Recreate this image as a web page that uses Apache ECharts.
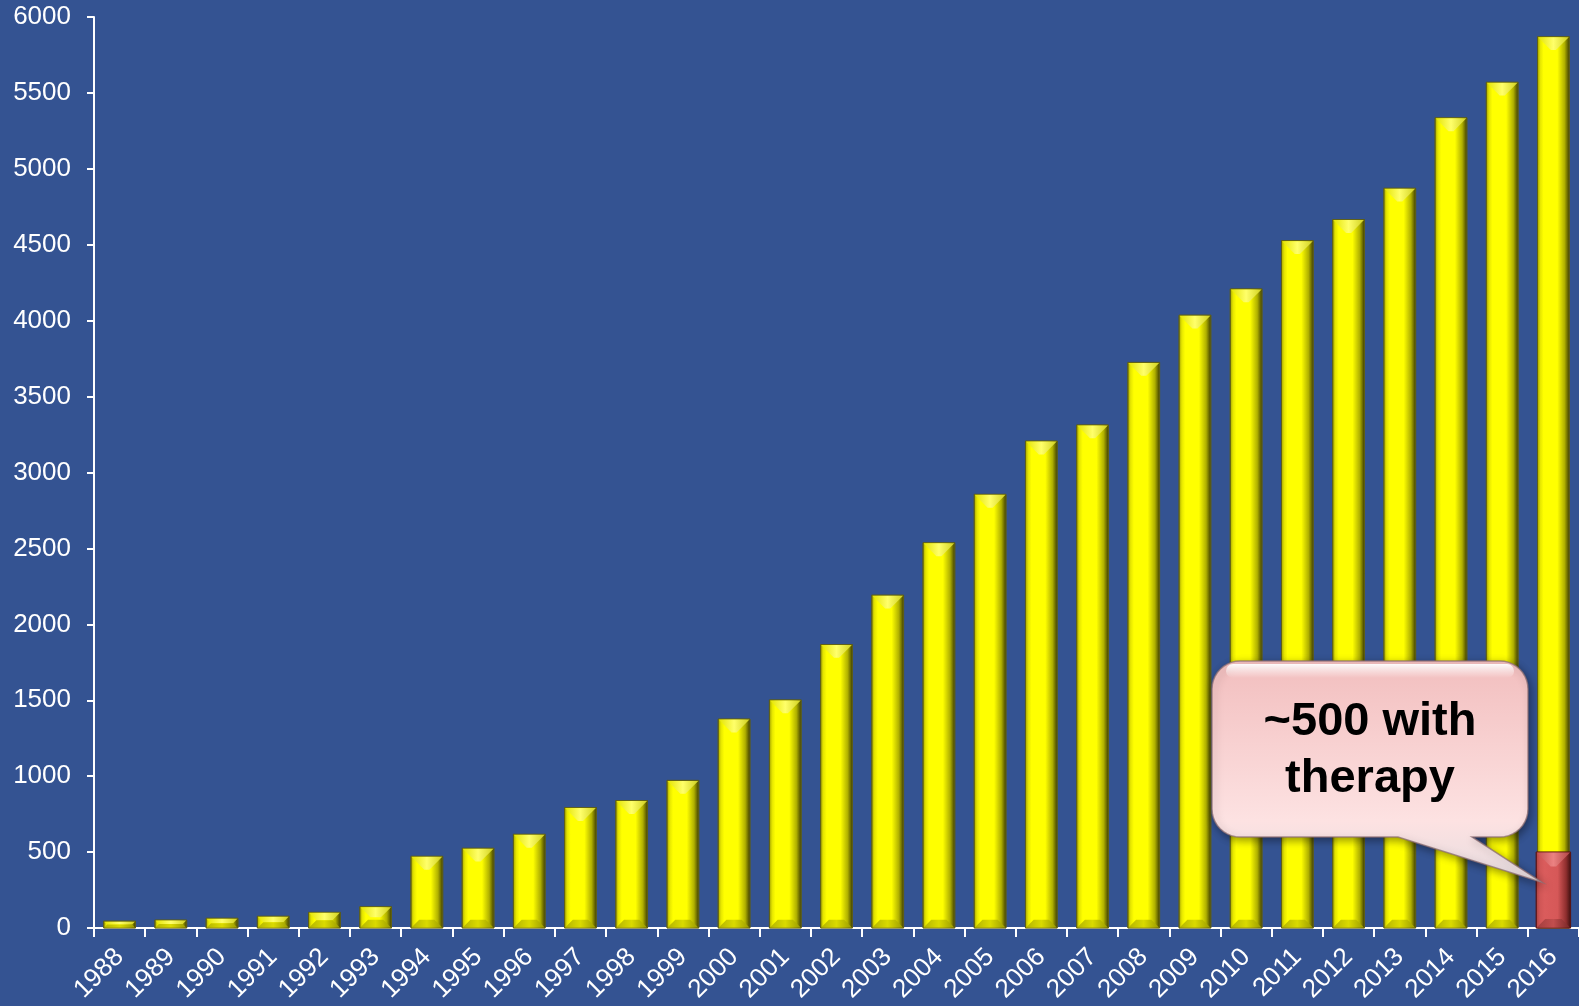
<!DOCTYPE html>
<html>
<head>
<meta charset="utf-8">
<script src="https://cdn.jsdelivr.net/npm/echarts@6/dist/echarts.min.js"></script>
<style>
  html, body { margin: 0; padding: 0; background: #345392; }
  #chart { width: 1579px; height: 1006px; }
</style>
</head>
<body>
<div id="chart"></div>
<script>
// Yearly totals, 1988–2016
const years = ['1988','1989','1990','1991','1992','1993','1994','1995','1996','1997',
  '1998','1999','2000','2001','2002','2003','2004','2005','2006','2007',
  '2008','2009','2010','2011','2012','2013','2014','2015','2016'];
const totalCounts = [45, 52, 64, 77, 103, 140, 472, 525, 617, 793,
  839, 972, 1376, 1502, 1867, 2192, 2537, 2856, 3207, 3313,
  3725, 4036, 4209, 4527, 4666, 4872, 5336, 5570, 5870];
// Subset receiving therapy in the latest year
const therapyYear = '2016';
const therapyCount = 500;
const calloutText = '~500 with\ntherapy';

const FONT = '"Liberation Sans", Arial, sans-serif';

// Bevelled column: main face with side shading plus lighter top and darker bottom facets
function bevelBar(palette) {
  return function (params, api) {
    const top = api.coord([api.value(0), api.value(1)]);
    const base = api.coord([api.value(0), 0]);
    const w = api.size([1, 0])[0] * palette.widthRatio;
    const x0 = top[0] - w / 2, x1 = top[0] + w / 2;
    const y0 = top[1], y1 = base[1];
    const h = y1 - y0;
    const dt = Math.min(w * 0.42, h / 2);
    const db = Math.min(w * 0.26, h / 2);
    return {
      type: 'group',
      children: [
        {
          type: 'rect',
          shape: { x: x0, y: y0, width: w, height: h },
          style: {
            fill: new echarts.graphic.LinearGradient(0, 0, 1, 0, palette.face),
            stroke: palette.edge, lineWidth: 1
          }
        },
        {
          type: 'polygon',
          shape: { points: [[x0 + 0.5, y0 + 0.5], [x1 - 0.5, y0 + 0.5], [x1 - dt, y0 + dt], [x0 + dt, y0 + dt]] },
          style: { fill: new echarts.graphic.LinearGradient(0, 0, 1, 0, palette.top) }
        },
        {
          type: 'polygon',
          shape: { points: [[x0 + 0.5, y1 - 0.5], [x1 - 0.5, y1 - 0.5], [x1 - db, y1 - db], [x0 + db, y1 - db]] },
          style: { fill: new echarts.graphic.LinearGradient(0, 0, 1, 0, palette.bottom) }
        }
      ]
    };
  };
}

const yellow = {
  widthRatio: 0.62,
  face: [
    { offset: 0, color: '#9c9c00' }, { offset: 0.1, color: '#e6e600' },
    { offset: 0.2, color: '#ffff00' }, { offset: 0.62, color: '#ffff00' },
    { offset: 0.84, color: '#b0b000' }, { offset: 1, color: '#343400' }
  ],
  top: [
    { offset: 0, color: '#e4e400' }, { offset: 0.5, color: '#ffff6a' }, { offset: 1, color: '#d0d020' }
  ],
  bottom: [
    { offset: 0, color: '#b4b400' }, { offset: 0.5, color: '#dada00' }, { offset: 1, color: '#9a9a00' }
  ],
  edge: 'rgba(95,95,20,0.8)'
};

const red = {
  widthRatio: 0.67,
  face: [
    { offset: 0, color: '#a8403f' }, { offset: 0.12, color: '#d05656' },
    { offset: 0.25, color: '#da5c5c' }, { offset: 0.62, color: '#d65858' },
    { offset: 0.86, color: '#8e2e2e' }, { offset: 1, color: '#3a0e0e' }
  ],
  top: [
    { offset: 0, color: '#c45050' }, { offset: 0.5, color: '#eb8282' }, { offset: 1, color: '#b04545' }
  ],
  bottom: [
    { offset: 0, color: '#a23e3e' }, { offset: 0.5, color: '#c24e4e' }, { offset: 1, color: '#762626' }
  ],
  edge: 'rgba(90,20,20,0.8)'
};

const chart = echarts.init(document.getElementById('chart'), null, { renderer: 'canvas' });

chart.setOption({
  backgroundColor: '#345392',
  animation: false,
  grid: { left: 94, top: 17, width: 1488, height: 911 },
  xAxis: {
    type: 'category',
    data: years,
    axisLine: { lineStyle: { color: '#ffffff', width: 2 } },
    axisTick: { show: true, length: 9, lineStyle: { color: '#ffffff', width: 2 } },
    axisLabel: {
      rotate: 45, margin: 25, interval: 0,
      color: '#ffffff', fontSize: 26, fontFamily: FONT
    },
    splitLine: { show: false }
  },
  yAxis: {
    type: 'value',
    min: 0, max: 6000, interval: 500,
    axisLine: { show: true, lineStyle: { color: '#ffffff', width: 2 } },
    axisTick: { show: true, length: 7, lineStyle: { color: '#ffffff', width: 2 } },
    axisLabel: {
      margin: 23, color: '#ffffff', fontSize: 26, fontFamily: FONT,
      formatter: v => String(v)
    },
    splitLine: { show: false }
  },
  series: [
    {
      name: 'Total',
      type: 'custom',
      renderItem: bevelBar(yellow),
      encode: { x: 0, y: 1 },
      data: years.map((y, i) => [y, totalCounts[i]]),
      z: 2
    },
    {
      name: 'With therapy',
      type: 'custom',
      renderItem: bevelBar(red),
      encode: { x: 0, y: 1 },
      data: [[therapyYear, therapyCount]],
      z: 3
    }
  ]
});

// Outline of a rounded box with a pointer leaving its bottom edge
function bubbleOutline(x0, y0, x1, y1, r, t1, t2, tip) {
  const pts = [];
  const arc = (cx, cy, a0, a1) => {
    const n = 10;
    for (let i = 0; i <= n; i++) {
      const a = a0 + (a1 - a0) * i / n;
      pts.push([cx + r * Math.cos(a), cy + r * Math.sin(a)]);
    }
  };
  arc(x0 + r, y0 + r, Math.PI, Math.PI * 1.5);      // top-left
  arc(x1 - r, y0 + r, Math.PI * 1.5, Math.PI * 2);  // top-right
  arc(x1 - r, y1 - r, 0, Math.PI * 0.5);            // bottom-right
  pts.push([t2, y1], tip, [t1, y1]);                // pointer
  arc(x0 + r, y1 - r, Math.PI * 0.5, Math.PI);      // bottom-left
  return pts;
}

// Speech-bubble annotation pointing at the therapy column
function drawCallout() {
  const barPt = chart.convertToPixel({ seriesIndex: 1 }, [therapyYear, therapyCount * 0.6]);
  const step = chart.convertToPixel({ xAxisIndex: 0 }, years[1]) - chart.convertToPixel({ xAxisIndex: 0 }, years[0]);
  const tip = [barPt[0] - step * 0.22, barPt[1]];
  const bx0 = 1212, by0 = 661, bx1 = 1528, by1 = 837, r = 28;
  const cx = (bx0 + bx1) / 2, cy = (by0 + by1) / 2;
  chart.setOption({
    graphic: [
      {
        type: 'polygon', z: 100,
        shape: { points: bubbleOutline(bx0, by0, bx1, by1, r, 1398, 1472, tip) },
        style: {
          fill: new echarts.graphic.LinearGradient(0, 0, 0, 1, [
            { offset: 0, color: '#f2bebe' }, { offset: 0.72, color: '#fde2e2' }, { offset: 1, color: '#e6dcdf' }
          ]),
          stroke: 'rgba(140,110,115,0.75)', lineWidth: 1.5,
          shadowBlur: 8, shadowColor: 'rgba(0,0,0,0.4)', shadowOffsetX: 2, shadowOffsetY: 3
        }
      },
      {
        type: 'rect', z: 101,
        shape: { x: bx0 + 14, y: by0 + 3, width: bx1 - bx0 - 28, height: 14, r: 7 },
        style: {
          fill: new echarts.graphic.LinearGradient(0, 0, 0, 1, [
            { offset: 0, color: 'rgba(255,255,255,0.95)' }, { offset: 1, color: 'rgba(255,255,255,0)' }
          ])
        }
      },
      {
        type: 'text', z: 102,
        style: {
          x: cx, y: cy + 2,
          text: calloutText,
          fill: '#000000',
          fontSize: 47, fontWeight: 'bold', fontFamily: FONT,
          lineHeight: 57,
          align: 'center', verticalAlign: 'middle'
        }
      }
    ]
  });
}
drawCallout();
</script>
</body>
</html>
